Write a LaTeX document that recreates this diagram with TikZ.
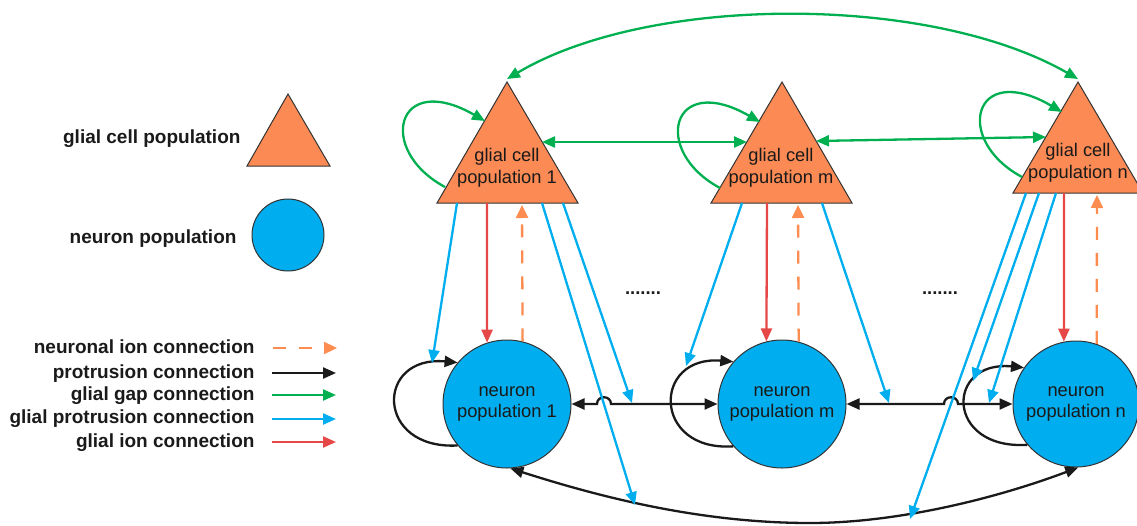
\documentclass[tikz,border=0pt]{standalone}
\usepackage{fontspec}
\setmainfont{Liberation Sans}
\usetikzlibrary{arrows.meta}

\definecolor{gliafill}{RGB}{252,138,84}
\definecolor{neurofill}{RGB}{0,174,239}
\definecolor{gapgreen}{RGB}{0,176,80}
\definecolor{protblue}{RGB}{0,174,239}
\definecolor{ionred}{RGB}{230,72,72}
\definecolor{ionorange}{RGB}{252,140,80}
\definecolor{outline}{RGB}{51,51,51}
\definecolor{inkblack}{RGB}{26,26,26}

\tikzset{
  tipend/.style={-{Triangle[length=13pt,width=11pt]}},
  tipboth/.style={{Triangle[length=13pt,width=11pt]}-{Triangle[length=13pt,width=11pt]}},
  wire/.style={line width=2.3pt},
  protrusion/.style={wire, draw=inkblack},
  gap/.style={wire, draw=gapgreen},
  gliaprot/.style={wire, draw=protblue},
  gliaion/.style={wire, draw=ionred},
  neuroion/.style={wire, draw=ionorange, dash pattern=on 13pt off 13pt},
  iontip/.style={-{Triangle[length=13pt,width=12pt]}},
  gliashape/.style={fill=gliafill, draw=outline, line width=1pt},
  neuron/.style={circle, fill=neurofill, draw=outline, line width=1pt,
    inner sep=0pt, minimum size=#1},
  neuron/.default=128pt,
  bodytext/.style={text=inkblack, align=center,
    font=\fontsize{18.3}{21.5}\selectfont},
  legendtext/.style={text=inkblack, anchor=base east,
    font=\fontsize{19}{22}\selectfont\bfseries},
}

\begin{document}
\begin{tikzpicture}[x=1pt,y=-1pt]
\useasboundingbox (0,0) rectangle (1137,525);

% ---------- legend: shapes ----------
\draw[gliashape] (288,94) -- (247,166) -- (330,166) -- cycle;
\node[legendtext] (lglia) at (244,143) {glial cell population};
\node[neuron=72pt] (lneuron) at (288,235) {};
\node[legendtext] (lneu) at (240,243) {neuron population};

% ---------- legend: connection types ----------
\node[legendtext] (lni) at (258,353) {neuronal ion connection};
\node[legendtext] (lpr) at (258,378) {protrusion connection};
\node[legendtext] (lgg) at (258,400) {glial gap connection};
\node[legendtext] (lgp) at (258,423) {glial protrusion connection};
\node[legendtext] (lgi) at (258,447) {glial ion connection};

\coordinate (ni0) at (273,348); \coordinate (ni1) at (337,348);
\coordinate (pr0) at (272,373); \coordinate (pr1) at (336,373);
\coordinate (gg0) at (272,395); \coordinate (gg1) at (336,395);
\coordinate (gp0) at (272,419); \coordinate (gp1) at (336,419);
\coordinate (gi0) at (272,442); \coordinate (gi1) at (336,442);
\draw[neuroion, iontip] (ni0) -- (ni1);
\draw[protrusion, tipend] (pr0) -- (pr1);
\draw[gap, tipend] (gg0) -- (gg1);
\draw[gliaprot, tipend] (gp0) -- (gp1);
\draw[gliaion, tipend] (gi0) -- (gi1);

% ---------- glial cell populations ----------
\coordinate (g1top) at (507,82);  \coordinate (g1bl) at (437,203);  \coordinate (g1br) at (578,203);
\coordinate (gmtop) at (782,82);  \coordinate (gmbl) at (711,203);  \coordinate (gmbr) at (852,203);
\coordinate (gntop) at (1078,82); \coordinate (gnbl) at (1013,193); \coordinate (gnbr) at (1143,193);
\draw[gliashape] (g1top) -- (g1bl) -- (g1br) -- cycle;
\draw[gliashape] (gmtop) -- (gmbl) -- (gmbr) -- cycle;
\draw[gliashape] (gntop) -- (gnbl) -- (gnbr) -- cycle;
\node[bodytext] (g1) at (507,168) {glial cell\\population 1};
\node[bodytext] (gm) at (781,168) {glial cell\\population m};
\node[bodytext] (gn) at (1078,163) {glial cell\\population n};

% ---------- neuron populations ----------
\node[neuron] (n1) at (507,404) {};
\node[neuron] (nm) at (782,404) {};
\node[neuron=126pt] (nn) at (1076,404) {};
\node[bodytext] at (n1) {neuron\\population 1};
\node[bodytext] at (nm) {neuron\\population m};
\node[bodytext] at (nn) {neuron\\population n};

% ---------- ellipses between populations ----------
\node[anchor=base, text=inkblack, font=\fontsize{18.5}{22}\selectfont\bfseries] (dots1) at (643,294) {.......};
\node[anchor=base, text=inkblack, font=\fontsize{18.5}{22}\selectfont\bfseries] (dots2) at (940,294) {.......};

% ---------- glial gap connections ----------
\draw[gap, tipboth] (507,79) .. controls (650,-6) and (930,-6) .. (1078,79);
\draw[gap, tipboth] (542,142) -- (747,142);
\draw[gap, tipboth] (816,141) -- (1046,137);
\draw[gap, tipend] (445,187) .. controls (376,150) and (396,70) .. (485,121);
\draw[gap, tipend] (720,188) .. controls (651,151) and (671,71) .. (760,122);
\draw[gap, tipend] (1022,177) .. controls (953,140) and (973,60) .. (1062,112);

% ---------- glial ion / neuronal ion connections ----------
\draw[gliaion, tipend] (487,203) -- (n1.108);
\draw[neuroion, iontip] (n1.76) -- (522,205);
\draw[gliaion, tipend] (767,203) -- (nm.104);
\draw[neuroion, iontip] (nm.75) -- (798,205);
\draw[gliaion, tipend] (1064,193) -- (nn.101);
\draw[neuroion, iontip] (nn.71) -- (1097,195);

% ---------- protrusion connections between neurons ----------
\draw[protrusion, tipend] (n1.220) .. controls (375,450) and (375,355) .. (n1.140);
\draw[protrusion, tipend] (nm.221) .. controls (652,452) and (652,355) .. (nm.139);
\draw[protrusion, tipend] (nn.220) .. controls (945,450) and (945,360) .. (nn.145);
\draw[protrusion, tipboth] (n1.east) -- (597,404) .. controls (597,395) and (611,395) .. (611,404) -- (nm.west);
\draw[protrusion, tipboth] (nm.east) -- (944,404) .. controls (944,395) and (958,395) .. (958,404) -- (nn.west);
\draw[protrusion, tipboth] (n1.273) .. controls (600,497) and (700,523) .. (810,523)
  .. controls (900,523) and (1000,497) .. (nn.272);

% ---------- glial protrusion connections ----------
\coordinate (p1a) at (432,363); \coordinate (p1b) at (635,505); \coordinate (p1c) at (632,403);
\coordinate (pma) at (686,366); \coordinate (pmb) at (889,403);
\coordinate (pna) at (910,519); \coordinate (pnb) at (973,381); \coordinate (pnc) at (989,403);
\draw[gliaprot, tipend] (457,203) -- (p1a);
\draw[gliaprot, tipend] (542,203) -- (p1b);
\draw[gliaprot, tipend] (563,203) -- (p1c);
\draw[gliaprot, tipend] (742,203) -- (pma);
\draw[gliaprot, tipend] (822,203) -- (pmb);
\draw[gliaprot, tipend] (1026,193) -- (pna);
\draw[gliaprot, tipend] (1039,193) -- (pnb);
\draw[gliaprot, tipend] (1056,193) -- (pnc);

\end{tikzpicture}
\end{document}
